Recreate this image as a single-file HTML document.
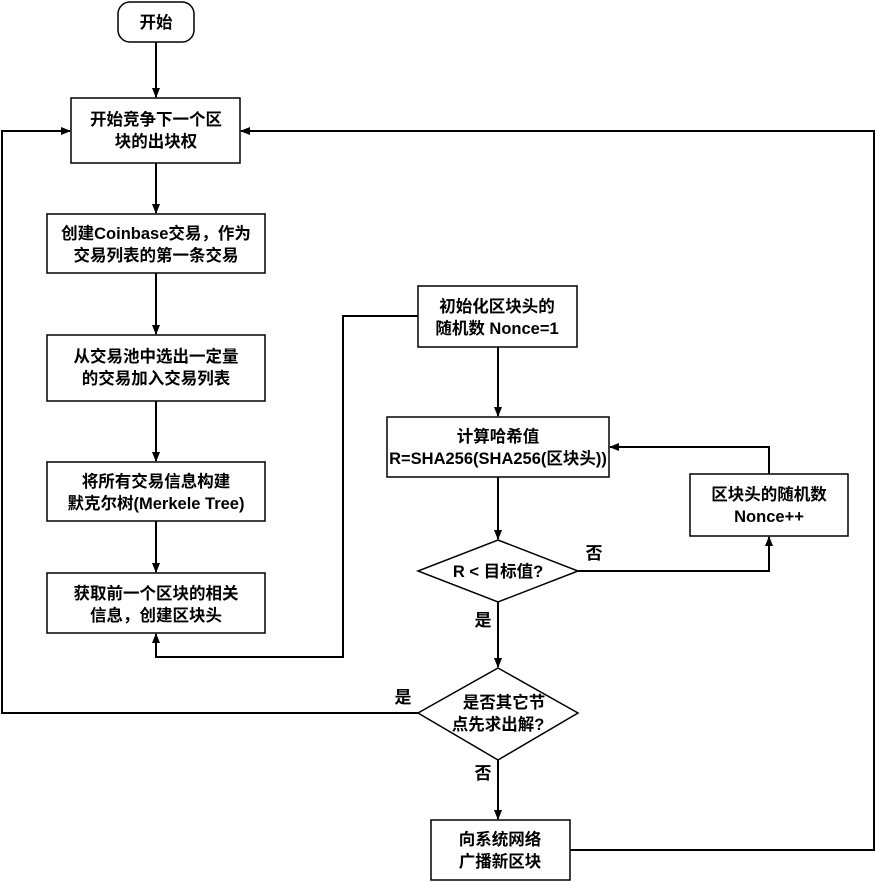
<!DOCTYPE html>
<html><head><meta charset="utf-8"><style>
html,body{margin:0;padding:0;background:#fff;}
svg{display:block}
text{font-family:"Liberation Sans","Noto Sans CJK SC",sans-serif;font-weight:bold;font-size:16.5px;fill:#000;text-anchor:middle}
.b{font-size:17px}
.s{fill:#fff;stroke:#000;stroke-width:1.5}
.l{fill:none;stroke:#000;stroke-width:2}
</style></head><body>
<svg width="875" height="882" viewBox="0 0 875 882">
<defs><marker id="a" markerWidth="10" markerHeight="10" refX="9" refY="5" orient="auto" markerUnits="userSpaceOnUse"><path d="M0,1 L10,5 L0,9 z" fill="#000"/></marker></defs>
<path class="l" d="M156,42 V97" marker-end="url(#a)"/>
<path class="l" d="M156,163 V213" marker-end="url(#a)"/>
<path class="l" d="M156,273 V334" marker-end="url(#a)"/>
<path class="l" d="M156,401 V461" marker-end="url(#a)"/>
<path class="l" d="M156,521 V572" marker-end="url(#a)"/>
<path class="l" d="M418,316 H343 V657 H156 V634" marker-end="url(#a)"/>
<path class="l" d="M498,347 V416" marker-end="url(#a)"/>
<path class="l" d="M498,477 V539" marker-end="url(#a)"/>
<path class="l" d="M578,571 H769 V537" marker-end="url(#a)"/>
<path class="l" d="M769,474 V447 H610" marker-end="url(#a)"/>
<path class="l" d="M498,602 V667" marker-end="url(#a)"/>
<path class="l" d="M418,713 H2 V131 H70" marker-end="url(#a)"/>
<path class="l" d="M498,760 V819" marker-end="url(#a)"/>
<path class="l" d="M570,850 H874 V131 H241" marker-end="url(#a)"/>
<rect class="s" x="118" y="2" width="76" height="40" rx="12"/>
<text x="156" y="28">开始</text>
<rect class="s" x="71" y="98" width="169" height="65"/>
<text x="156" y="125">开始竞争下一个区</text><text x="156" y="147">块的出块权</text>
<rect class="s" x="47" y="214" width="218" height="59"/>
<text x="156" y="239">创建Coinbase交易，作为</text><text x="156" y="261">交易列表的第一条交易</text>
<rect class="s" x="47" y="335" width="218" height="66"/>
<text x="156" y="362">从交易池中选出一定量</text><text x="156" y="384">的交易加入交易列表</text>
<rect class="s" x="47" y="462" width="218" height="59"/>
<text x="156" y="487">将所有交易信息构建</text><text x="156" y="509">默克尔树(Merkele Tree)</text>
<rect class="s" x="47" y="573" width="218" height="60"/>
<text x="156" y="599">获取前一个区块的相关</text><text x="156" y="621">信息，创建区块头</text>
<rect class="s" x="418" y="286" width="159" height="61"/>
<text x="497" y="312">初始化区块头的</text><text x="497" y="334">随机数 Nonce=1</text>
<rect class="s" x="387" y="417" width="222" height="60"/>
<text x="498" y="442">计算哈希值</text><text x="498" y="464">R=SHA256(SHA256(区块头))</text>
<rect class="s" x="690" y="474" width="158" height="62"/>
<text x="769" y="500">区块头的随机数</text><text x="769" y="522">Nonce++</text>
<polygon class="s" points="498,540 578,571 498,602 418,571"/>
<text x="498" y="577">R &lt; 目标值?</text>
<polygon class="s" points="498,668 578,713 498,760 418,713"/>
<text x="504" y="708">是否其它节</text><text x="498" y="730">点先求出解?</text>
<rect class="s" x="431" y="820" width="139" height="60"/>
<text x="500" y="845">向系统网络</text><text x="500" y="867">广播新区块</text>
<text class="b" x="594" y="559">否</text>
<text class="b" x="483" y="626">是</text>
<text class="b" x="403" y="703">是</text>
<text class="b" x="483" y="779">否</text>
</svg>
</body></html>
